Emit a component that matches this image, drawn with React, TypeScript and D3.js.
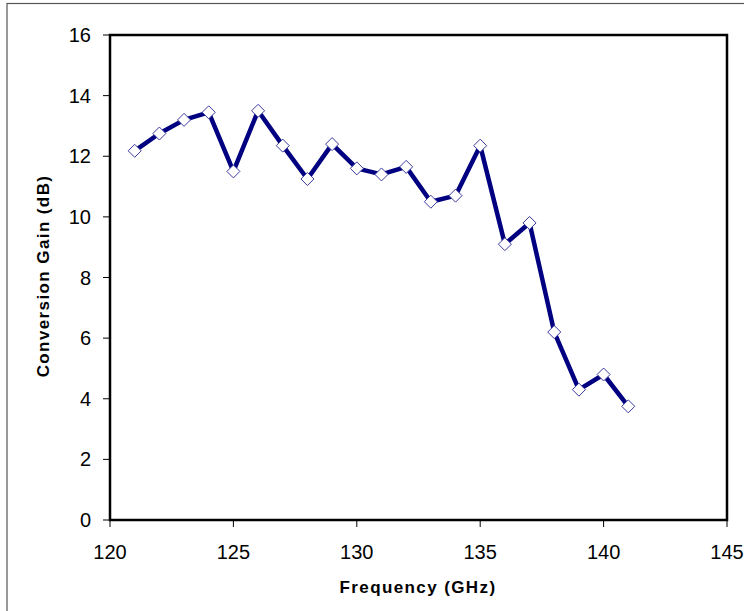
import React from "react";
import * as d3 from "d3";

const freqs = [121,122,123,124,125,126,127,128,129,130,131,132,133,134,135,136,137,138,139,140,141];
const gains = [12.18,12.75,13.2,13.45,11.5,13.5,12.35,11.25,12.4,11.6,11.4,11.65,10.5,10.7,12.35,9.1,9.8,6.2,4.3,4.8,3.75];
const xTicks = [120,125,130,135,140,145];
const yTicks = [0,2,4,6,8,10,12,14,16];

export default function App() {
  const W = 744, H = 611;
  const left = 110, right = 727, top = 35, bottom = 520;
  const x = d3.scaleLinear().domain([120,145]).range([left,right]);
  const y = d3.scaleLinear().domain([0,16]).range([bottom,top]);
  const pts = freqs.map((f,i)=>[x(f), y(gains[i])] as [number,number]);
  const line = d3.line()(pts) || "";
  const font = "Arial, 'Liberation Sans', sans-serif";
  const r = 6.5;
  return (
    <svg width={W} height={H} style={{position:"absolute", left:0, top:0}}>
      <rect x={0} y={0} width={W} height={H} fill="#fff"/>
      <rect x={7} y={3.5} width={W+10} height={H+10} fill="none" stroke="#555" strokeWidth={1.2}/>
      <rect x={left} y={top} width={right-left} height={bottom-top} fill="#fff" stroke="#000" strokeWidth={2.5}/>
      {yTicks.map(t=>(
        <g key={"y"+t}>
          <line x1={left-7} x2={left} y1={y(t)} y2={y(t)} stroke="#000" strokeWidth={1}/>
          <text x={left-19} y={y(t)+7} textAnchor="end" fontFamily={font} fontSize={20} fill="#000">{t}</text>
        </g>
      ))}
      {xTicks.map(t=>(
        <g key={"x"+t}>
          <line x1={x(t)} x2={x(t)} y1={bottom} y2={bottom+7} stroke="#000" strokeWidth={1}/>
          <text x={x(t)} y={559} textAnchor="middle" fontFamily={font} fontSize={20} fill="#000">{t}</text>
        </g>
      ))}
      <text x={418} y={593} textAnchor="middle" fontFamily={font} fontSize={17} fontWeight="bold" letterSpacing={1.4} fill="#000">Frequency (GHz)</text>
      <text transform={`translate(49,276) rotate(-90)`} textAnchor="middle" fontFamily={font} fontSize={17} fontWeight="bold" letterSpacing={1.4} fill="#000">Conversion Gain (dB)</text>
      <path d={line} fill="none" stroke="#000080" strokeWidth={4.5} strokeLinejoin="round"/>
      {pts.map((p,i)=>(
        <path key={i} d={`M${p[0]},${p[1]-r}L${p[0]+r},${p[1]}L${p[0]},${p[1]+r}L${p[0]-r},${p[1]}Z`} fill="#fff" stroke="#3a3aa0" strokeWidth={1}/>
      ))}
    </svg>
  );
}
